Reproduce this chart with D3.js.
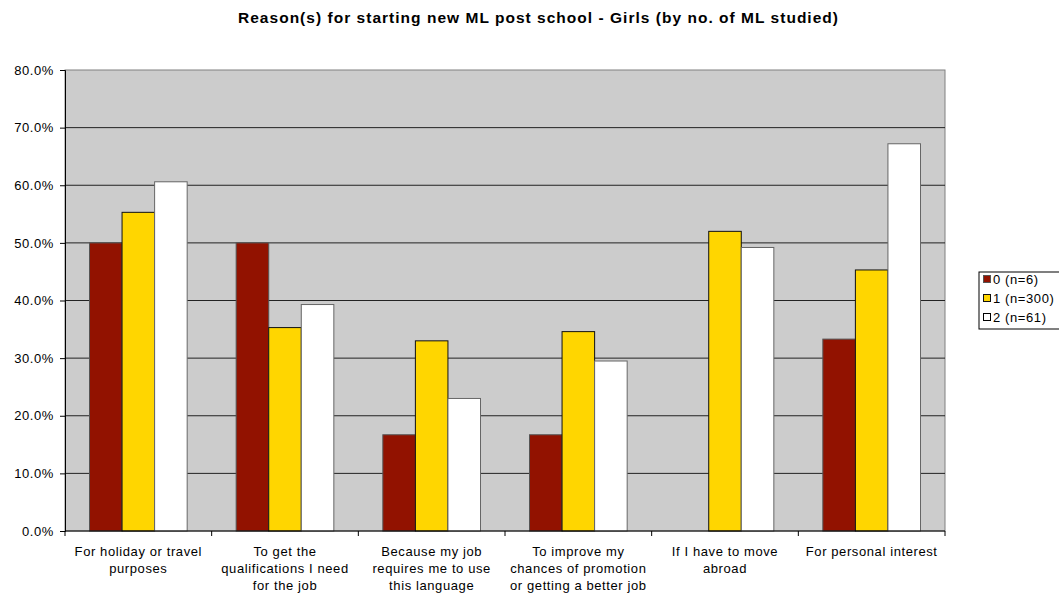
<!DOCTYPE html>
<html>
<head>
<meta charset="utf-8">
<script src="https://cdn.jsdelivr.net/npm/d3@7"></script>
<style>
  body { margin: 0; background: #fff; }
  text { font-family: "Liberation Sans", Arial, sans-serif; }
</style>
</head>
<body>
<script>
// categories and series
var categories = [
  ["For holiday or travel", "purposes"],
  ["To get the", "qualifications I need", "for the job"],
  ["Because my job", "requires me to use", "this language"],
  ["To improve my", "chances of promotion", "or getting a better job"],
  ["If I have to move", "abroad"],
  ["For personal interest"]
];
var seriesNames = ["0 (n=6)", "1 (n=300)", "2 (n=61)"];
var seriesColors = ["#921200", "#FFD600", "#FFFFFF"];
var seriesStroke = ["#555", "#111", "#666"];
var s0 = [50.0, 50.0, 16.7, 16.7, 0, 33.3];
var s1 = [55.3, 35.3, 33.0, 34.6, 52.0, 45.3];
var s2 = [60.6, 39.3, 23.0, 29.5, 49.2, 67.2];
var yTicks = [0, 10, 20, 30, 40, 50, 60, 70, 80];

var W = 1059, H = 596;
var margin = {top: 70, left: 65, right: W - 945, bottom: H - 531};
var width = W - margin.left - margin.right,
    height = H - margin.top - margin.bottom;

var svg = d3.select("body").append("svg")
    .attr("width", W)
    .attr("height", H);

// title
svg.append("text")
    .attr("x", 538).attr("y", 23)
    .attr("text-anchor", "middle")
    .attr("textLength", 600)
    .attr("lengthAdjust", "spacing")
    .style("font-size", "15.5px")
    .style("font-weight", "bold")
    .text("Reason(s) for starting new ML post school - Girls (by no. of ML studied)");

var g = svg.append("g")
    .attr("transform", "translate(" + margin.left + "," + margin.top + ")");

var x0 = d3.scaleBand().domain(d3.range(categories.length)).range([0, width]).paddingInner(0).paddingOuter(0);
var x1 = d3.scaleBand().domain([0, 1, 2]).range([24.5, x0.bandwidth() - 24.5]).padding(0);
var y = d3.scaleLinear().domain([0, 80]).range([height, 0]);

// plot background
g.append("rect")
    .attr("width", width).attr("height", height)
    .attr("fill", "#cccccc")
    .attr("stroke", "#808080");

// grid lines
g.selectAll(".grid").data(yTicks.slice(1, -1)).enter().append("line")
    .attr("x1", 0).attr("x2", width)
    .attr("y1", function(d) { return y(d); })
    .attr("y2", function(d) { return y(d); })
    .attr("stroke", "#222").attr("stroke-width", 1);

// bars
var data = [s0, s1, s2];
var groups = g.selectAll(".grp").data(categories).enter().append("g")
    .attr("transform", function(d, i) { return "translate(" + x0(i) + ",0)"; });

groups.selectAll("rect").data(function(d, i) {
    return data.map(function(s, k) { return {k: k, v: s[i]}; });
  }).enter().filter(function(d) { return d.v > 0; }).append("rect")
    .attr("x", function(d) { return x1(d.k); })
    .attr("width", x1.bandwidth())
    .attr("y", function(d) { return y(d.v); })
    .attr("height", function(d) { return height - y(d.v); })
    .attr("fill", function(d) { return seriesColors[d.k]; })
    .attr("stroke", function(d) { return seriesStroke[d.k]; })
    .attr("stroke-width", 1);

// Y axis
var yAxis = g.append("g")
    .call(d3.axisLeft(y).tickValues(yTicks).tickSize(5).tickFormat(function(d) { return d.toFixed(1) + "%"; }));
yAxis.select(".domain").attr("stroke", "#000");
yAxis.selectAll("text").style("font-size", "13px").style("letter-spacing", "0.6px")
    .attr("fill", "#000").attr("x", -11);

// X axis
var xAxis = g.append("g")
    .attr("transform", "translate(0," + height + ")");
xAxis.append("line").attr("x1", 0).attr("x2", width).attr("stroke", "#000");
xAxis.selectAll(".tk").data(d3.range(categories.length + 1)).enter().append("line")
    .attr("x1", function(d) { return d * x0.bandwidth(); })
    .attr("x2", function(d) { return d * x0.bandwidth(); })
    .attr("y1", 0).attr("y2", 5).attr("stroke", "#000");

xAxis.selectAll(".lbl").data(categories).enter().append("text")
    .attr("text-anchor", "middle")
    .attr("transform", function(d, i) { return "translate(" + (x0(i) + x0.bandwidth() / 2) + ",25)"; })
    .style("font-size", "13px")
    .style("letter-spacing", "0.6px")
    .each(function(d) {
      var t = d3.select(this);
      d.forEach(function(line, j) {
        t.append("tspan").attr("x", 0).attr("dy", j === 0 ? 0 : 17).text(line);
      });
    });

// legend
var lg = svg.append("g").attr("transform", "translate(979,272)");
lg.append("rect").attr("width", 90).attr("height", 57)
    .attr("fill", "#fff").attr("stroke", "#000");
seriesNames.forEach(function(n, i) {
  lg.append("rect").attr("x", 4.5).attr("y", 3.5 + i * 19)
      .attr("width", 7).attr("height", 7)
      .attr("fill", seriesColors[i]).attr("stroke", i === 2 ? "#000" : seriesStroke[i]);
  lg.append("text").attr("x", 14).attr("y", 12 + i * 19)
      .style("font-size", "13px").style("letter-spacing", "0.6px").text(n);
});
</script>
</body>
</html>
